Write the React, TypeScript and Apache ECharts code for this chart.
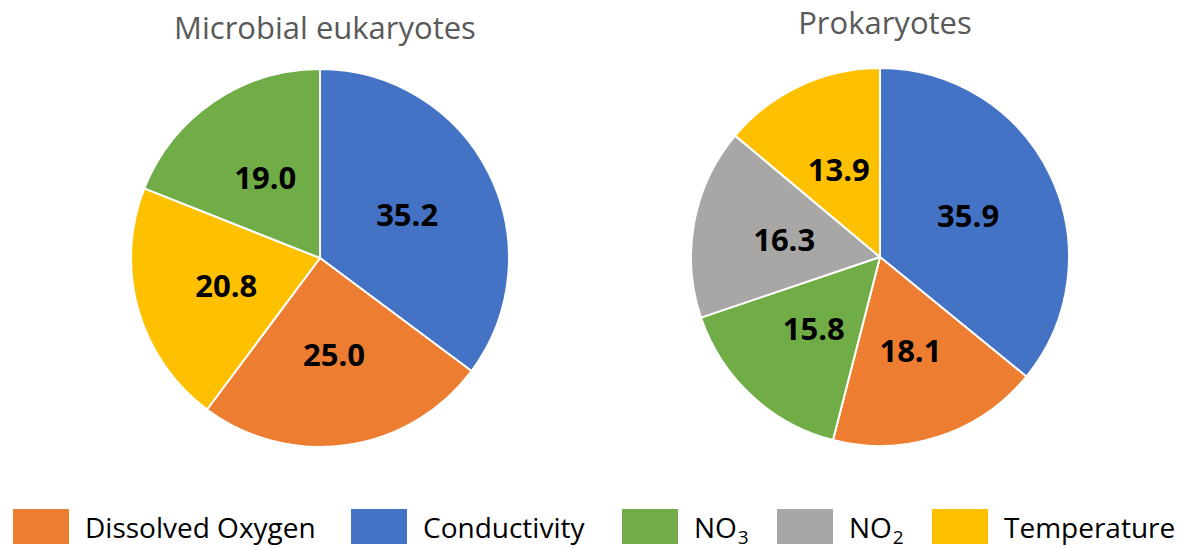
import React, { useEffect, useRef } from "react";
import * as echarts from "echarts";

const categories = ["Dissolved Oxygen", "Conductivity", "NO3", "NO2", "Temperature"];
const categoryColors = ["#ED7D31", "#4472C4", "#70AD47", "#A9A7A5", "#FFC000"];
const titles = ["Microbial eukaryotes", "Prokaryotes"];
const eukNames = ["Conductivity", "Dissolved Oxygen", "Temperature", "NO3"];
const eukValues = [35.2, 25.0, 20.8, 19.0];
const proNames = ["Conductivity", "Dissolved Oxygen", "NO3", "NO2", "Temperature"];
const proValues = [35.9, 18.1, 15.8, 16.3, 13.9];

const FONT = "'Open Sans', 'Noto Sans', sans-serif";

const colorOf = (n: string) => categoryColors[categories.indexOf(n)];

const legendLefts = [11, 349, 620, 775, 930];

export default function App() {
  const ref = useRef<HTMLDivElement>(null);
  useEffect(() => {
    if (!ref.current) return;
    const chart = echarts.init(ref.current, undefined, { renderer: "svg" });
    const mkData = (names: string[], vals: number[]) =>
      names.map((n, i) => ({ name: n, value: vals[i], itemStyle: { color: colorOf(n) } }));
    const pieBase = {
      type: "pie",
      radius: 189,
      startAngle: 90,
      clockwise: true,
      avoidLabelOverlap: false,
      label: {
        show: true,
        position: "inside",
        formatter: (p: any) => Number(p.value).toFixed(1),
        fontFamily: FONT,
        fontWeight: "bold",
        fontSize: 31,
        color: "#000",
      },
      labelLine: { show: false },
      itemStyle: { borderColor: "#fff", borderWidth: 2 },
      emphasis: { disabled: true },
    };
    const fmt = (name: string) => {
      if (name === "NO3") return "{a|NO}{s|3}";
      if (name === "NO2") return "{a|NO}{s|2}";
      return "{a|" + name + "}";
    };
    chart.setOption({
      animation: false,
      title: [
        {
          text: titles[0],
          left: 320,
          top: 6,
          textAlign: "center",
          textStyle: { fontFamily: FONT, fontSize: 31, fontWeight: "normal", color: "#595959" },
        },
        {
          text: titles[1],
          left: 880,
          top: 1,
          textAlign: "center",
          textStyle: { fontFamily: FONT, fontSize: 31, fontWeight: "normal", color: "#595959" },
        },
      ],
      legend: categories.map((c, i) => ({
        data: [c],
        left: legendLefts[i],
        top: 507,
        padding: 0,
        itemWidth: 58,
        itemHeight: 37,
        icon: "rect",
        selectedMode: false,
        formatter: fmt,
        textStyle: {
          padding: [0, 0, 0, 10],
          rich: {
            a: { fontFamily: FONT, fontSize: 28, color: "#000", lineHeight: 32, verticalAlign: "middle" },
            s: { fontFamily: FONT, fontSize: 19, color: "#000", lineHeight: 32, verticalAlign: "middle", padding: [20, 0, 0, 1] },
          },
        },
      })),
      series: [
        { ...pieBase, name: titles[0], center: [320, 258], data: mkData(eukNames, eukValues) },
        { ...pieBase, name: titles[1], center: [880, 257], data: mkData(proNames, proValues) },
      ],
    });
    return () => chart.dispose();
  }, []);
  return (
    <div
      ref={ref}
      style={{ position: "fixed", left: 0, top: 0, width: 1182, height: 548, background: "#fff" }}
    />
  );
}
